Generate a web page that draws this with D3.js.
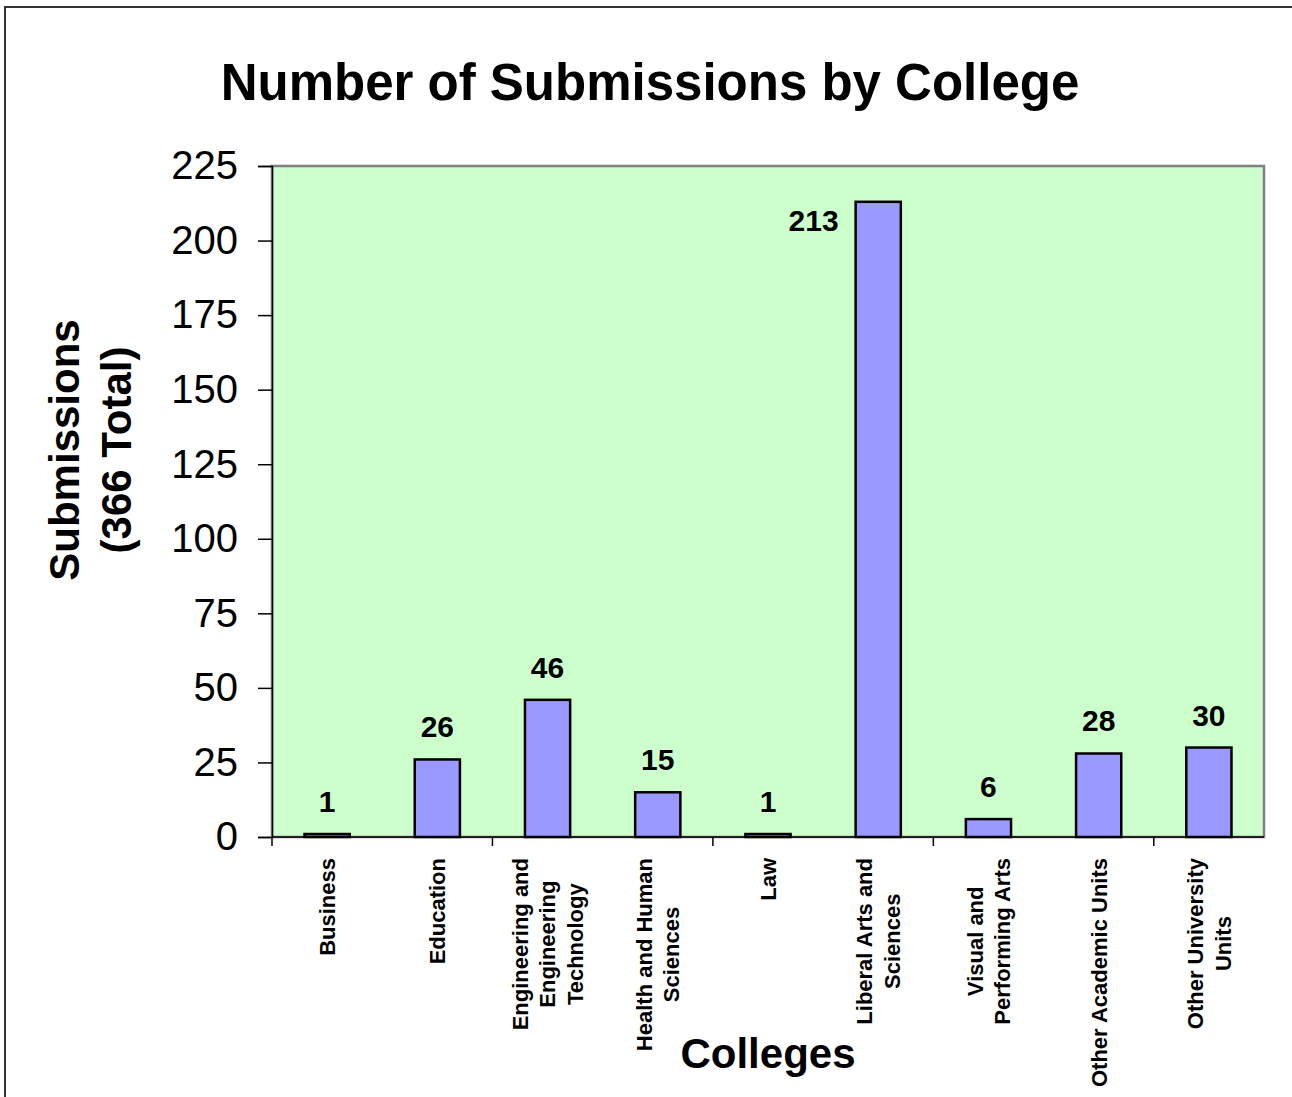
<!DOCTYPE html>
<html>
<head>
<meta charset="utf-8">
<script src="https://cdn.jsdelivr.net/npm/d3@7"></script>
<style>
  body { margin: 0; background: #fff; }
  text { font-family: "Liberation Sans", Arial, sans-serif; }
</style>
</head>
<body>
<div id="chart"></div>
<script>

// chart data
var colleges = ["Business", "Education", "Engineering and Engineering Technology",
  "Health and Human Sciences", "Law", "Liberal Arts and Sciences",
  "Visual and Performing Arts", "Other Academic Units", "Other University Units"];
var collegeLines = [["Business"], ["Education"], ["Engineering and", "Engineering", "Technology"],
  ["Health and Human", "Sciences"], ["Law"], ["Liberal Arts and", "Sciences"],
  ["Visual and", "Performing Arts"], ["Other Academic Units"], ["Other University", "Units"]];
var submissions = [1, 26, 46, 15, 1, 213, 6, 28, 30];
var yTicks = [0, 25, 50, 75, 100, 125, 150, 175, 200, 225];

var W = 1292, H = 1097;
// plot area
var margin = { top: 166, right: 28, bottom: 260, left: 272 },
  width = W - margin.left - margin.right,
  height = H - margin.top - margin.bottom;

var svg = d3.select("#chart")
  .append("svg")
  .attr("width", W)
  .attr("height", H);

// outer chart border
svg.append("rect")
  .attr("x", 5).attr("y", 7)
  .attr("width", W + 20).attr("height", H + 20)
  .attr("fill", "none")
  .attr("stroke", "#333")
  .attr("stroke-width", 2);

// title
svg.append("text")
  .attr("x", 650).attr("y", 100)
  .attr("text-anchor", "middle")
  .style("font-size", "51px")
  .style("font-weight", "bold")
  .text("Number of Submissions by College");

var g = svg.append("g")
  .attr("transform", "translate(" + margin.left + "," + margin.top + ")");

// scales
var slot = d3.scaleBand()
  .domain(colleges)
  .range([0, width])
  .padding(0);

var x = d3.scaleBand()
  .domain(colleges)
  .range([0, width])
  .paddingInner(0.59)
  .paddingOuter(0.295);

var y = d3.scaleLinear()
  .domain([0, 225])
  .range([height, 0]);

// plot background
g.append("rect")
  .attr("x", 0).attr("y", 0)
  .attr("width", width).attr("height", height)
  .attr("fill", "#CCFFCC")
  .attr("stroke", "#808080")
  .attr("stroke-width", 2.5);

// Y axis
var yAxis = g.append("g")
  .call(d3.axisLeft(y).tickValues(yTicks).tickSize(14).tickPadding(20));
yAxis.select(".domain").attr("stroke", "#000").attr("stroke-width", 1.5);
yAxis.selectAll(".tick line").attr("stroke", "#000").attr("stroke-width", 1.5);
yAxis.selectAll(".tick text")
  .attr("fill", "#000")
  .style("font-size", "40px")
  .style("font-family", "'Liberation Sans', Arial, sans-serif");

// X axis line and ticks (every other category boundary)
g.append("line")
  .attr("x1", 0).attr("x2", width)
  .attr("y1", height).attr("y2", height)
  .attr("stroke", "#000").attr("stroke-width", 1.5);

g.selectAll(".xtick")
  .data(colleges.filter(function (d, i) { return i % 2 == 0; }))
  .enter()
  .append("line")
  .attr("class", "xtick")
  .attr("x1", function (d) { return slot(d); })
  .attr("x2", function (d) { return slot(d); })
  .attr("y1", height).attr("y2", height + 9)
  .attr("stroke", "#000").attr("stroke-width", 1.5);

// bars
g.selectAll(".bar")
  .data(submissions)
  .enter()
  .append("rect")
  .attr("class", "bar")
  .attr("x", function (d, i) { return x(colleges[i]); })
  .attr("width", x.bandwidth())
  .attr("y", function (d) { return y(d); })
  .attr("height", function (d) { return height - y(d); })
  .attr("fill", "#9999FF")
  .attr("stroke", "#000")
  .attr("stroke-width", 2.5);

// value labels
g.selectAll(".vlabel")
  .data(submissions)
  .enter()
  .append("text")
  .attr("class", "vlabel")
  .attr("x", function (d, i) {
    if (d > 200) return x(colleges[i]) - 17;
    return x(colleges[i]) + x.bandwidth() / 2;
  })
  .attr("y", function (d) {
    if (d > 200) return y(d) + 29;
    return y(d) - 22;
  })
  .attr("text-anchor", function (d) { return d > 200 ? "end" : "middle"; })
  .style("font-size", "30px")
  .style("font-weight", "bold")
  .text(function (d) { return d; });

// category labels (rotated, lines centred, top edge under the axis)
var catTop = height + 21, lineH = 27.5;
colleges.forEach(function (c, i) {
  var lines = collegeLines[i];
  var cg = g.append("g")
    .attr("transform", "translate(" + (slot(c) + slot.bandwidth() / 2) + "," + catTop + ") rotate(-90)");
  var texts = cg.selectAll("text")
    .data(lines)
    .enter()
    .append("text")
    .attr("y", function (d, j) { return (j - (lines.length - 1) / 2) * lineH; })
    .attr("dy", "0.36em")
    .attr("text-anchor", "middle")
    .style("font-size", "22px")
    .style("font-weight", "bold")
    .text(function (d) { return d; });
  var maxLen = 0;
  texts.each(function () { maxLen = Math.max(maxLen, this.getComputedTextLength()); });
  texts.attr("x", -maxLen / 2);
});

// axis titles
var yt = svg.append("text")
  .attr("transform", "translate(79,450) rotate(-90)")
  .attr("text-anchor", "middle")
  .style("font-size", "42px")
  .style("font-weight", "bold");
yt.append("tspan").attr("x", 0).attr("y", 0).text("Submissions");
yt.append("tspan").attr("x", 0).attr("y", 52).text("(366 Total)");

svg.append("text")
  .attr("x", margin.left + width / 2).attr("y", 1068)
  .attr("text-anchor", "middle")
  .style("font-size", "42px")
  .style("font-weight", "bold")
  .text("Colleges");

</script>
</body>
</html>
